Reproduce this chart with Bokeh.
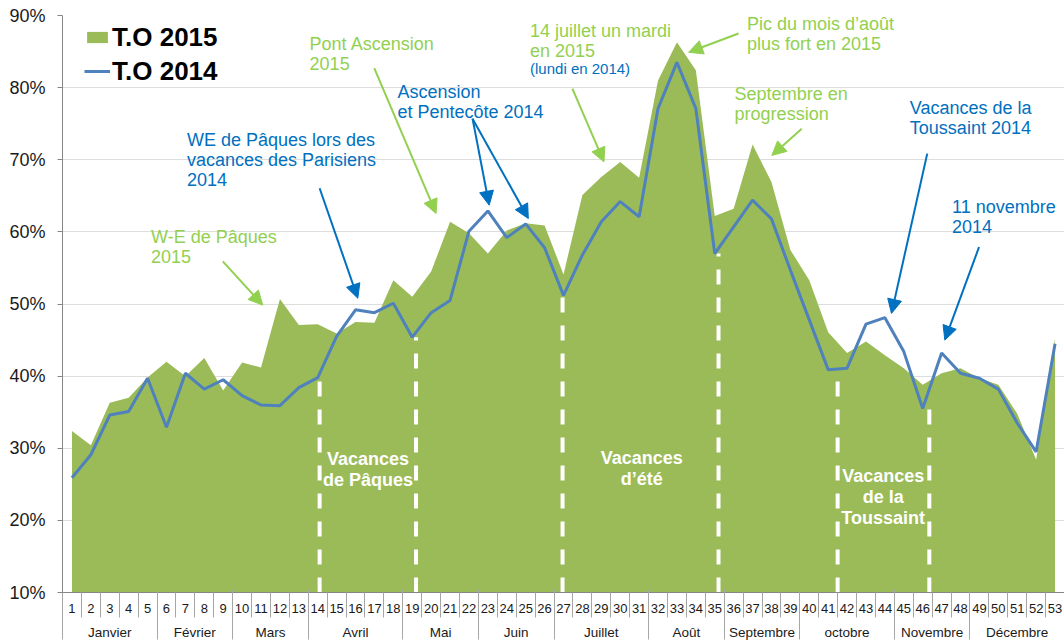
from bokeh.plotting import figure
from bokeh.models import (Range1d, FixedTicker, LinearAxis, CustomJSTickFormatter,
                          PrintfTickFormatter, Legend, LegendItem, Label, Arrow, NormalHead)
from bokeh.embed import file_html
from bokeh.resources import INLINE
import numpy as np

# ---------------- data ----------------
weeks = list(range(1, 54))
to_2015 = [32.4, 30.4, 36.3, 37.0, 39.8, 42.0, 40.0, 42.5, 38.0, 41.9,
           41.2, 50.7, 47.1, 47.2, 45.9, 47.5, 47.4, 53.3, 51.0, 54.5,
           61.4, 59.8, 57.0, 60.2, 61.2, 60.9, 54.1, 65.1, 67.6, 69.7,
           67.5, 81.0, 86.3, 82.4, 62.2, 63.2, 72.1, 66.9, 57.5, 53.3,
           46.1, 43.2, 44.8, 42.9, 41.1, 38.8, 40.4, 41.1, 39.7, 38.8,
           34.8, 28.4, 45.2]
to_2014 = [25.9, 29.1, 34.6, 35.1, 39.7, 32.9, 40.4, 38.2, 39.5, 37.3,
           36.0, 35.9, 38.4, 39.8, 45.5, 49.2, 48.8, 50.1, 45.4, 48.8,
           50.5, 60.1, 62.9, 59.2, 61.1, 57.8, 51.2, 56.8, 61.4, 64.2,
           62.1, 77.1, 83.5, 77.1, 57.0, 60.7, 64.4, 61.8, 54.7, 47.8,
           40.9, 41.1, 47.2, 48.1, 43.4, 35.5, 43.2, 40.4, 39.7, 38.2,
           33.5, 29.5, 44.5]
months = ["Janvier", "Février", "Mars", "Avril", "Mai", "Juin", "Juillet",
          "Août", "Septembre", "octobre", "Novembre", "Décembre"]
weeks_per_month = [5, 4, 4, 5, 4, 4, 5, 4, 4, 5, 4, 5]
y_ticks = [10, 20, 30, 40, 50, 60, 70, 80, 90]
series_names = ["T.O 2015", "T.O 2014"]

# school holiday limits (in weeks) and their labels
holiday_bounds = [14.1, 19.2, 26.95, 35.2, 41.5, 46.35]
holiday_labels = ["Vacances\nde Pâques", "Vacances\nd’été", "Vacances\nde la\nToussaint"]
holiday_label_x = [16.66, 31.14, 43.91]
holiday_label_y = [29.9, 30.1, 27.5]

# callouts: text, x, y (top-left), colour, size
GREEN_T = "#92D050"
BLUE_T = "#0070C0"
note_texts = ["W-E de Pâques\n2015", "Pont Ascension\n2015",
              "WE de Pâques lors des\nvacances des Parisiens\n2014",
              "Ascension\net Pentecôte 2014", "14 juillet un mardi\nen 2015",
              "(lundi en 2014)", "Pic du mois d’août\nplus fort en 2015",
              "Septembre en\nprogression", "Vacances de la\nToussaint 2014",
              "11 novembre\n2014"]
note_x = [5.18, 13.57, 7.08, 18.22, 25.23, 25.23, 36.70, 36.05, 45.32, 47.55]
note_y = [60.7, 87.5, 74.1, 80.8, 89.3, 83.8, 90.2, 80.5, 78.5, 64.8]
note_colors = [GREEN_T, GREEN_T, BLUE_T, BLUE_T, GREEN_T, BLUE_T, GREEN_T, GREEN_T, BLUE_T, BLUE_T]
note_sizes = ["18px"] * 5 + ["15px"] + ["18px"] * 4

arrow_x0 = [8.98, 16.99, 14.10, 22.19, 22.19, 27.47, 36.26, 39.60, 46.24, 48.98]
arrow_y0 = [55.9, 82.7, 66.05, 75.7, 75.7, 79.85, 87.5, 74.3, 70.85, 57.9]
arrow_x1 = [11.09, 20.26, 16.12, 23.07, 25.14, 29.14, 33.62, 38.02, 44.35, 47.17]
arrow_y1 = [49.85, 62.55, 50.8, 63.7, 61.85, 69.7, 84.9, 70.6, 48.7, 45.0]
arrow_colors = [GREEN_T, GREEN_T, BLUE_T, BLUE_T, BLUE_T, GREEN_T, GREEN_T, GREEN_T, BLUE_T, BLUE_T]

# ---------------- derived ----------------
week_edges = [w - 0.5 for w in weeks] + [weeks[-1] + 0.5]
month_edges = list(np.concatenate([[0.5], 0.5 + np.cumsum(weeks_per_month)]))
month_centers = [(a + b) / 2 for a, b in zip(month_edges[:-1], month_edges[1:])]
holiday_tops = [to_2014[int(round(b)) - 1] for b in holiday_bounds]

FONT = "Liberation Sans"
AREA = "#9BBB59"
LINE = "#4F81BD"
AXIS = "#868686"
SEP = "#A6A6A6"

p = figure(width=1064, height=642,
           x_range=Range1d(0.5, 53.5), y_range=Range1d(10, 90),
           x_axis_type=None, output_backend="svg", toolbar_location=None,
           min_border_top=15, min_border_left=62, min_border_right=0, min_border_bottom=0)
p.outline_line_color = None
p.background_fill_color = "white"

# y axis
p.yaxis.ticker = FixedTicker(ticks=y_ticks, minor_ticks=[])
p.yaxis.formatter = PrintfTickFormatter(format="%d%%")
p.yaxis.major_label_text_font = FONT
p.yaxis.major_label_text_font_size = "18px"
p.yaxis.major_label_text_color = "#1A1A1A"
p.yaxis.major_tick_out = 5
p.yaxis.major_tick_in = 0
p.yaxis.minor_tick_out = 0
p.yaxis.major_label_standoff = 12
p.yaxis.axis_line_color = AXIS
p.yaxis.major_tick_line_color = AXIS
p.ygrid.ticker = FixedTicker(ticks=y_ticks[1:])
p.ygrid.grid_line_color = "#DDDDDD"

# x axis: weeks
week_axis = LinearAxis(ticker=FixedTicker(ticks=weeks, minor_ticks=week_edges))
week_axis.major_tick_out = 0
week_axis.major_tick_in = 0
week_axis.minor_tick_out = 25
week_axis.minor_tick_in = 0
week_axis.minor_tick_line_color = SEP
week_axis.axis_line_color = AXIS
week_axis.major_label_standoff = -14
week_axis.major_label_text_font = FONT
week_axis.major_label_text_font_size = "13px"
week_axis.major_label_text_color = "#1A1A1A"
p.add_layout(week_axis, "below")

# x axis: months
month_axis = LinearAxis(ticker=FixedTicker(ticks=month_centers, minor_ticks=month_edges),
                        formatter=CustomJSTickFormatter(
                            args=dict(c=month_centers, n=months),
                            code="const i = c.findIndex(v => Math.abs(v - tick) < 1e-6); return i >= 0 ? n[i] : '';"))
month_axis.major_tick_out = 0
month_axis.major_tick_in = 0
month_axis.minor_tick_in = 26
month_axis.minor_tick_out = 24
month_axis.minor_tick_line_color = SEP
month_axis.axis_line_color = None
month_axis.major_label_standoff = -15
month_axis.major_label_text_font = FONT
month_axis.major_label_text_font_size = "13.5px"
month_axis.major_label_text_color = "#1A1A1A"
p.add_layout(month_axis, "below")

# series
area_r = p.varea(x=weeks, y1=[y_ticks[0]] * len(weeks), y2=to_2015, fill_color=AREA)
p.segment(x0=holiday_bounds, y0=[y_ticks[0]] * len(holiday_bounds), x1=holiday_bounds,
          y1=holiday_tops, line_color="white", line_width=4, line_dash="15 13")
line_r = p.line(x=weeks, y=to_2014, line_color=LINE, line_width=3)

for t, x, y in zip(holiday_labels, holiday_label_x, holiday_label_y):
    p.add_layout(Label(x=x, y=y, text=t, text_font=FONT, text_font_size="18px",
                       text_font_style="bold", text_color="white", text_align="center",
                       text_baseline="top", text_line_height=1.05))

for t, x, y, c, s in zip(note_texts, note_x, note_y, note_colors, note_sizes):
    p.add_layout(Label(x=x, y=y, text=t, text_font=FONT, text_font_size=s,
                       text_color=c, text_align="left", text_baseline="top",
                       text_line_height=1.0))

for x0, y0, x1, y1, c in zip(arrow_x0, arrow_y0, arrow_x1, arrow_y1, arrow_colors):
    p.add_layout(Arrow(x_start=x0, y_start=y0, x_end=x1, y_end=y1, line_color=c, line_width=2,
                       end=NormalHead(size=14, fill_color=c, line_color=c, line_width=1)))

legend = Legend(items=[LegendItem(label=series_names[0], renderers=[area_r]),
                       LegendItem(label=series_names[1], renderers=[line_r])],
                location=(22, 505.5), spacing=3, padding=0, margin=0,
                glyph_width=26, glyph_height=14, label_height=30, label_standoff=2,
                label_text_font=FONT, label_text_font_style="bold",
                label_text_font_size="26px", label_text_color="black",
                border_line_color=None, background_fill_alpha=0)
p.add_layout(legend)

open("out.html", "w").write(file_html(p, INLINE))
